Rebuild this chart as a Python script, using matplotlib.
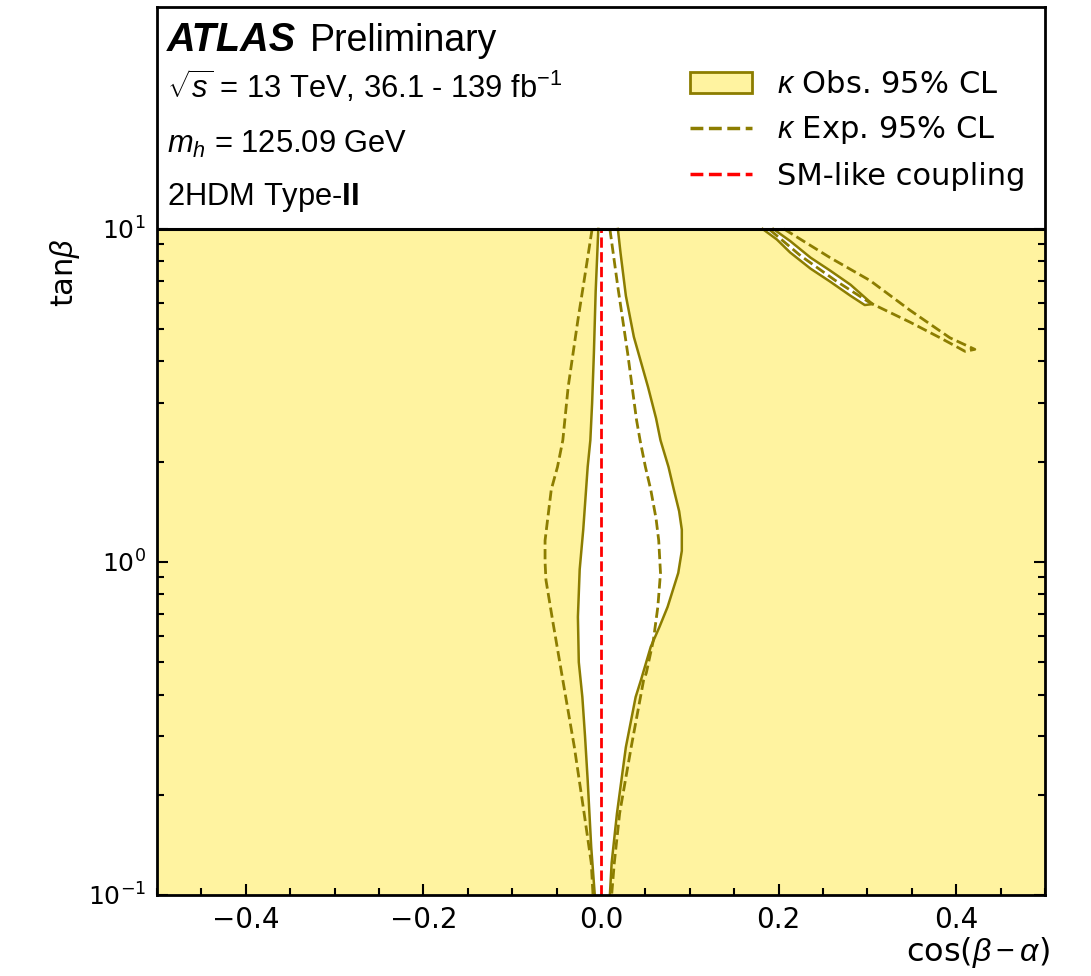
import matplotlib
matplotlib.use('Agg')
import matplotlib.pyplot as plt
from matplotlib.patches import Patch
from matplotlib.lines import Line2D
from matplotlib.ticker import FixedLocator, MultipleLocator, LogFormatterMathtext, NullFormatter

plt.rcParams['mathtext.fontset'] = 'custom'
plt.rcParams['mathtext.rm'] = 'Liberation Sans'
plt.rcParams['mathtext.it'] = 'Liberation Sans:italic'
plt.rcParams['mathtext.bf'] = 'Liberation Sans:bold'

# ---------------- data ----------------
# central allowed band, observed 95% CL boundaries
obs_left_tanb = [10.0, 6.5, 4.24, 3.0, 2.32, 1.93, 1.25, 0.95, 0.684, 0.50, 0.393, 0.30, 0.221, 0.139, 0.1]
obs_left_cos = [-0.003, -0.006, -0.008, -0.010, -0.012, -0.015, -0.020, -0.024, -0.026, -0.025, -0.021, -0.018, -0.015, -0.011, -0.007]
obs_right_tanb = [10.0, 8.47, 6.3, 4.74, 3.35, 2.7, 2.32, 1.93, 1.65, 1.42, 1.25, 1.08, 0.927, 0.733, 0.64, 0.556, 0.442, 0.393, 0.278, 0.176, 0.125, 0.1]
obs_right_cos = [0.019, 0.022, 0.028, 0.037, 0.053, 0.062, 0.067, 0.076, 0.082, 0.088, 0.091, 0.091, 0.087, 0.075, 0.066, 0.056, 0.045, 0.039, 0.028, 0.018, 0.012, 0.010]

# central band, expected 95% CL boundaries
exp_left_tanb = [10.0, 7.0, 5.33, 3.35, 2.32, 1.93, 1.65, 1.35, 1.16, 1.0, 0.883, 0.656, 0.442, 0.278, 0.176, 0.125, 0.1]
exp_left_cos = [-0.010, -0.019, -0.026, -0.037, -0.043, -0.049, -0.056, -0.060, -0.063, -0.063, -0.062, -0.054, -0.043, -0.030, -0.019, -0.011, -0.009]
exp_right_tanb = [10.0, 6.69, 4.24, 2.67, 2.32, 1.93, 1.65, 1.35, 1.16, 0.927, 0.733, 0.583, 0.464, 0.442, 0.278, 0.176, 0.125, 0.1]
exp_right_cos = [0.010, 0.019, 0.030, 0.040, 0.044, 0.050, 0.056, 0.062, 0.065, 0.067, 0.064, 0.059, 0.051, 0.048, 0.034, 0.021, 0.015, 0.012]

# upper-right thin allowed band (closed contours)
obs_band_cos = [0.194, 0.213, 0.236, 0.258, 0.281, 0.301, 0.306, 0.297, 0.281, 0.258, 0.236, 0.213, 0.198, 0.182]
obs_band_tanb = [10.0, 9.2, 8.2, 7.5, 6.8, 6.1, 5.95, 5.91, 6.3, 6.95, 7.6, 8.5, 9.3, 10.0]
exp_band_cos = [0.206, 0.225, 0.258, 0.303, 0.348, 0.393, 0.421, 0.410, 0.382, 0.348, 0.303, 0.264, 0.225, 0.189]
exp_band_tanb = [10.0, 9.3, 8.2, 7.0, 5.7, 4.71, 4.35, 4.29, 4.71, 5.25, 6.0, 7.0, 8.3, 10.0]

sm_cos = [0.0, 0.0]
sm_tanb = [0.1, 10.0]

xlim = (-0.5, 0.5)
ylim = (0.1, 46.4)

header_lines = [r"$\sqrt{s}$ = 13 TeV, 36.1 - 139 fb$^{-1}$",
                r"$m_h$ = 125.09 GeV",
                r"2HDM Type-$\mathbf{II}$"]
legend_labels = [r"$\kappa$ Obs. 95% CL", r"$\kappa$ Exp. 95% CL", "SM-like coupling"]

yellow = '#fff3a0'
olive = '#8c7d00'

fig = plt.figure(figsize=(10.91, 9.76), dpi=100)
ax = fig.add_axes([157 / 1091, 1 - 895 / 976, 888 / 1091, 888 / 976])
ax.set_xlim(*xlim)
ax.set_yscale('log')
ax.set_ylim(*ylim)

# excluded region (yellow) everywhere below tanb=10
ax.axhspan(0.1, 10.0, color=yellow, lw=0, zorder=1)

# allowed central band (white) with observed contour
cen_x = obs_left_cos + obs_right_cos[::-1]
cen_y = obs_left_tanb + obs_right_tanb[::-1]
ax.fill(cen_x, cen_y, color='white', lw=0, zorder=2)
ax.plot(obs_left_cos, obs_left_tanb, color=olive, lw=1.8, zorder=3)
ax.plot(obs_right_cos, obs_right_tanb, color=olive, lw=1.8, zorder=3)

# upper-right band
ax.fill(obs_band_cos, obs_band_tanb, color='white', lw=0, zorder=2)
ax.plot(obs_band_cos, obs_band_tanb, color=olive, lw=1.8, zorder=3)

# expected contours
ax.plot(exp_left_cos, exp_left_tanb, color=olive, lw=2, ls='--', zorder=4)
ax.plot(exp_right_cos, exp_right_tanb, color=olive, lw=2, ls='--', zorder=4)
ax.plot(exp_band_cos, exp_band_tanb, color=olive, lw=2, ls='--', zorder=4)

# SM-like line
ax.plot(sm_cos, sm_tanb, color='red', lw=2, ls='--', zorder=5)

# boundary line at tanb = 10
ax.axhline(10.0, color='black', lw=2.2, zorder=6)

# ticks
ax.yaxis.set_major_locator(FixedLocator([0.1, 1.0, 10.0]))
ax.yaxis.set_minor_locator(FixedLocator([m * d for d in (0.1, 1.0) for m in range(2, 10)]))
ax.yaxis.set_major_formatter(LogFormatterMathtext())
ax.yaxis.set_minor_formatter(NullFormatter())
ax.xaxis.set_major_locator(MultipleLocator(0.2))
ax.xaxis.set_minor_locator(MultipleLocator(0.05))
ax.tick_params(which='both', direction='in', right=True, top=False, width=1.5)
ax.tick_params(which='major', length=8)
ax.tick_params(which='minor', length=5)
ax.tick_params(axis='y', which='major', labelsize=18, pad=8)
ax.tick_params(axis='x', which='major', labelsize=20, pad=8)
for s in ax.spines.values():
    s.set_linewidth(2)
    s.set_zorder(7)

ax.set_xlabel(r"cos($\beta-\alpha$)", fontsize=23, loc='right')
ax.xaxis.set_label_coords(1.006, -0.045)
ax.set_ylabel(r"tan$\beta$", fontsize=22, loc='top')
ax.yaxis.set_label_coords(-0.085, 0.74)

# header texts
ax.text(0.011, 0.951, "ATLAS", transform=ax.transAxes, fontsize=28.5, fontweight='bold',
        fontstyle='italic', family='Liberation Sans', va='baseline', zorder=8)
ax.text(0.172, 0.951, "Preliminary", transform=ax.transAxes, fontsize=27,
        family='Liberation Sans', va='baseline', zorder=8)
for txt, yb in zip(header_lines, [0.898, 0.836, 0.777]):
    ax.text(0.011, yb, txt, transform=ax.transAxes, fontsize=22.2,
            family='Liberation Sans', va='baseline', zorder=8)

handles = [Patch(facecolor=yellow, edgecolor=olive, lw=2),
           Line2D([], [], color=olive, ls='--', lw=2.5),
           Line2D([], [], color='red', ls='--', lw=2.5)]
leg = ax.legend(handles, legend_labels, loc='upper left', bbox_to_anchor=(0.6, 0.929),
                frameon=False, fontsize=22, handlelength=2.05, handletextpad=0.8,
                labelspacing=0.5, borderpad=0, borderaxespad=0)
leg.set_zorder(9)

fig.savefig('out.png', dpi=100)
